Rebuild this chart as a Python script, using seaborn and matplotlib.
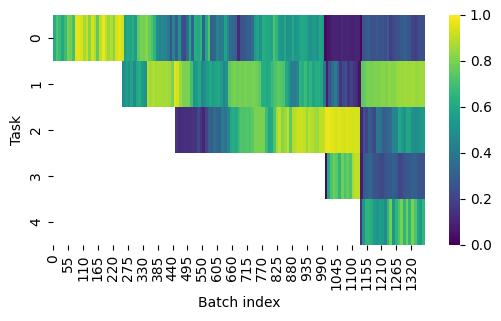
import numpy as np
import pandas as pd
import matplotlib
matplotlib.use("Agg")
import matplotlib.pyplot as plt
import seaborn as sns

# values, one value per block of 10 batches,
# each task starting at its own first batch
n_batches = 1370
block = 10
task_start = [0, 255, 451, 1001, 1130]

task0 = [0.62, 0.72, 0.68, 0.60, 0.68, 0.80, 0.78, 0.70, 0.95, 0.96,
         0.94, 0.86, 0.92, 0.82, 0.93, 0.88, 0.75, 0.90, 0.97, 0.90,
         0.85, 0.88, 0.82, 0.94, 0.96, 0.93, 0.55, 0.60, 0.58, 0.62,
         0.55, 0.75, 0.80, 0.78, 0.82, 0.76, 0.72, 0.65, 0.48, 0.45,
         0.47, 0.45, 0.40, 0.25, 0.45, 0.30, 0.50, 0.25, 0.22, 0.35,
         0.60, 0.32, 0.62, 0.60, 0.65, 0.30, 0.60, 0.72, 0.30, 0.32,
         0.45, 0.40, 0.42, 0.58, 0.45, 0.35, 0.33, 0.30, 0.12, 0.25,
         0.27, 0.30, 0.30, 0.35, 0.55, 0.58, 0.50, 0.62, 0.60, 0.60,
         0.58, 0.72, 0.65, 0.55, 0.50, 0.60, 0.50, 0.52, 0.60, 0.52,
         0.55, 0.60, 0.60, 0.58, 0.50, 0.52, 0.55, 0.50, 0.60, 0.55,
         0.03, 0.06, 0.08, 0.10, 0.10, 0.09, 0.12, 0.10, 0.10, 0.10,
         0.09, 0.10, 0.10, 0.02, 0.25, 0.28, 0.30, 0.25, 0.25, 0.27,
         0.25, 0.26, 0.24, 0.30, 0.18, 0.22, 0.25, 0.25, 0.28, 0.30,
         0.28, 0.26, 0.20, 0.18, 0.22, 0.24, 0.24]

task1 = [0.48, 0.55, 0.50, 0.58, 0.47, 0.60, 0.62, 0.55, 0.50, 0.88,
         0.86, 0.88, 0.86, 0.87, 0.87, 0.86, 0.87, 0.85, 0.80, 0.95,
         0.93, 0.85, 0.80, 0.80, 0.80, 0.70, 0.50, 0.55, 0.60, 0.45,
         0.50, 0.55, 0.60, 0.55, 0.58, 0.60, 0.55, 0.45, 0.50, 0.75,
         0.78, 0.80, 0.78, 0.79, 0.78, 0.80, 0.78, 0.78, 0.80, 0.78,
         0.75, 0.62, 0.62, 0.60, 0.62, 0.68, 0.72, 0.75, 0.73, 0.72,
         0.60, 0.55, 0.42, 0.42, 0.45, 0.65, 0.62, 0.68, 0.60, 0.65,
         0.58, 0.62, 0.62, 0.60, 0.40, 0.08, 0.25, 0.35, 0.42, 0.30,
         0.15, 0.22, 0.25, 0.15, 0.20, 0.15, 0.12, 0.05, 0.75, 0.76,
         0.80, 0.79, 0.80, 0.81, 0.80, 0.82, 0.82, 0.81, 0.83, 0.82,
         0.82, 0.84, 0.85, 0.84, 0.86, 0.85, 0.85, 0.86, 0.84, 0.85,
         0.86, 0.85]

task2 = [0.15, 0.12, 0.13, 0.14, 0.13, 0.14, 0.15, 0.15, 0.22, 0.15,
         0.10, 0.20, 0.30, 0.30, 0.35, 0.33, 0.30, 0.42, 0.38, 0.45,
         0.60, 0.62, 0.60, 0.68, 0.72, 0.72, 0.73, 0.72, 0.75, 0.80,
         0.80, 0.80, 0.80, 0.68, 0.58, 0.60, 0.72, 0.86, 0.90, 0.82,
         0.85, 0.90, 0.75, 0.88, 0.90, 0.92, 0.92, 0.90, 0.85, 0.90,
         0.88, 0.86, 0.85, 0.90, 0.90, 0.97, 0.97, 0.96, 0.95, 0.94,
         0.95, 0.93, 0.94, 0.95, 0.94, 0.93, 0.94, 0.93, 0.10, 0.25,
         0.20, 0.30, 0.25, 0.22, 0.40, 0.38, 0.30, 0.30, 0.33, 0.35,
         0.45, 0.45, 0.60, 0.55, 0.50, 0.60, 0.58, 0.50, 0.48, 0.50,
         0.52, 0.55]

task3 = [0.03, 0.60, 0.72, 0.78, 0.74, 0.65, 0.78, 0.72, 0.76, 0.72,
         0.86, 0.90, 0.90, 0.08, 0.28, 0.30, 0.33, 0.30, 0.25, 0.25,
         0.22, 0.22, 0.25, 0.28, 0.28, 0.30, 0.28, 0.20, 0.22, 0.25,
         0.28, 0.28, 0.30, 0.30, 0.26, 0.25, 0.25]

task4 = [0.15, 0.52, 0.65, 0.65, 0.62, 0.55, 0.52, 0.56, 0.55, 0.48,
         0.65, 0.78, 0.52, 0.65, 0.72, 0.80, 0.65, 0.78, 0.65, 0.80,
         0.72, 0.60, 0.55, 0.65]

tasks = [task0, task1, task2, task3, task4]

acc = np.full((len(tasks), n_batches), np.nan)
for i, (start, vals) in enumerate(zip(task_start, tasks)):
    row = np.repeat(vals, block)[: n_batches - start]
    acc[i, start:start + len(row)] = row

df = pd.DataFrame(acc, index=range(len(tasks)), columns=range(n_batches))

fig = plt.figure(figsize=(5.01, 3.21), dpi=100)
ax = fig.add_axes([53 / 501, 76 / 321, 371.7 / 501, 230 / 321])
cax = fig.add_axes([449 / 501, 76 / 321, 11 / 501, 230 / 321])

sns.heatmap(df, ax=ax, cbar_ax=cax, cmap="viridis", vmin=0, vmax=1,
            xticklabels=55, yticklabels=1)

ax.set_xlabel("Batch index")
ax.set_ylabel("Task")
ax.tick_params(axis="x", labelrotation=90)
ax.tick_params(axis="y", labelrotation=90)

fig.savefig("out.png", dpi=100)
